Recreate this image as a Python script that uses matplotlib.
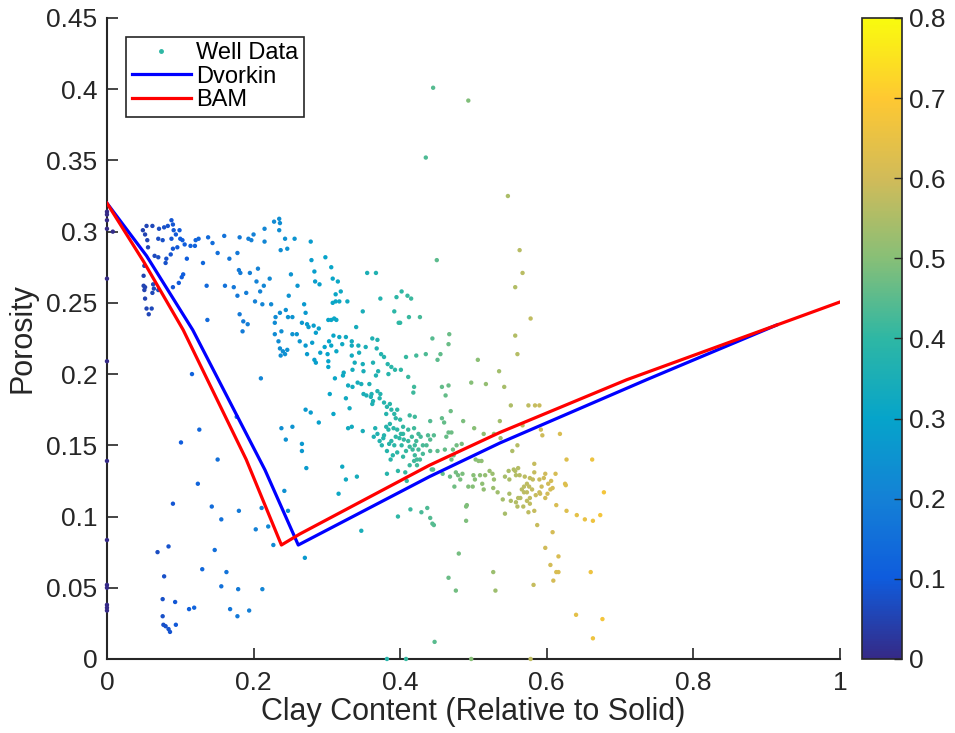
import numpy as np
import matplotlib
matplotlib.use('Agg')
import matplotlib.pyplot as plt
from matplotlib.colors import LinearSegmentedColormap
from matplotlib.lines import Line2D

plt.rcParams['font.family'] = ['Liberation Sans', 'DejaVu Sans']

# well data (clay fraction of solid, porosity)
axis_pts = [(0, .314), (0, .312), (0, .308), (0, .302), (.008, .300), (0, .267), (0, .209),
            (0, .139), (0, .0835), (0, .052), (0, .050), (0, .038), (0, .036), (0, .034)]

sand_pts = [(.054, .304), (.062, .304), (.049, .301), (.052, .298), (.055, .294), (.071, .302),
            (.078, .303), (.083, .304), (.088, .308), (.090, .305), (.091, .301), (.094, .298),
            (.099, .301), (.100, .295), (.103, .294), (.070, .295), (.076, .294), (.088, .295),
            (.090, .288), (.096, .289), (.056, .289), (.065, .283), (.070, .282), (.081, .281),
            (.080, .278), (.087, .284), (.051, .276), (.050, .269), (.050, .262), (.052, .261),
            (.051, .259), (.063, .263), (.064, .260), (.062, .257), (.052, .253), (.054, .246),
            (.061, .246), (.057, .242), (.090, .261), (.098, .264), (.102, .268), (.104, .270),
            (.070, .259)]

upper_pts = [(.109, .281), (.106, .291), (.114, .290), (.120, .290), (.121, .294), (.125, .295),
             (.138, .296), (.144, .292), (.131, .278), (.151, .285), (.160, .297), (.167, .281),
             (.178, .285), (.181, .296), (.193, .295), (.197, .294), (.200, .298), (.215, .302),
             (.215, .293), (.228, .307), (.235, .309), (.236, .306), (.235, .301), (.243, .295),
             (.256, .295), (.237, .287), (.246, .288), (.180, .273), (.182, .271), (.195, .271),
             (.206, .274), (.222, .267), (.251, .270), (.204, .265), (.214, .262), (.209, .258),
             (.190, .257), (.178, .255), (.202, .251), (.136, .262), (.161, .262), (.173, .261),
             (.212, .249), (.224, .249), (.248, .255), (.260, .262), (.236, .243), (.244, .245),
             (.247, .240), (.253, .240), (.230, .240), (.181, .242), (.186, .237), (.192, .235),
             (.229, .236), (.137, .238),
             (.116, .200), (.185, .230), (.210, .197), (.229, .228), (.238, .230), (.253, .228),
             (.259, .228), (.234, .223), (.236, .218), (.240, .216), (.243, .214), (.237, .213),
             (.246, .217), (.263, .223), (.177, .170), (.238, .162), (.253, .163), (.244, .154),
             (.126, .161), (.101, .152), (.151, .140)]

low_pts = [(.124, .123), (.090, .109), (.143, .107), (.180, .104), (.156, .098), (.242, .118),
           (.211, .106), (.247, .104), (.203, .091), (.220, .093), (.227, .080), (.084, .079),
           (.069, .075), (.147, .0765), (.130, .063), (.078, .058), (.163, .061), (.156, .051),
           (.179, .049), (.212, .049), (.076, .042), (.093, .040), (.112, .035), (.119, .036),
           (.168, .035), (.178, .030), (.194, .034), (.076, .030), (.077, .024), (.080, .023),
           (.084, .021), (.086, .019), (.094, .024), (.270, .071)]

mid_pts = [(.278, .293), (.279, .280), (.283, .272), (.284, .265), (.290, .263), (.298, .282),
           (.306, .275), (.308, .267), (.315, .265), (.319, .258), (.312, .256), (.317, .251),
           (.312, .251), (.308, .250), (.328, .251), (.302, .238), (.306, .238), (.310, .239),
           (.313, .238), (.340, .233), (.355, .271), (.367, .271), (.373, .253), (.349, .244),
           (.395, .254), (.392, .244), (.398, .236), (.269, .249), (.271, .243), (.273, .235),
           (.275, .233), (.282, .234), (.289, .232), (.285, .229), (.266, .236),
           (.271, .220), (.273, .214), (.280, .222), (.283, .210), (.285, .208), (.302, .205),
           (.291, .215), (.297, .219), (.301, .214), (.306, .220), (.303, .223), (.309, .227),
           (.317, .226), (.321, .221), (.326, .226), (.334, .223), (.334, .220), (.334, .213),
           (.338, .208), (.344, .215), (.343, .220), (.349, .207), (.353, .219), (.362, .225),
           (.363, .208), (.368, .218), (.369, .224), (.374, .214), (.378, .212), (.383, .207),
           (.388, .205), (.384, .200), (.370, .202), (.367, .199), (.350, .202), (.335, .203),
           (.323, .201), (.322, .199), (.311, .197), (.302, .209), (.313, .216), (.393, .203)]

trend_pts = [(.329, .192), (.335, .191), (.342, .194), (.347, .193), (.358, .193), (.304, .186),
             (.326, .183), (.350, .186), (.354, .185), (.361, .186), (.369, .188), (.373, .186),
             (.360, .184), (.363, .181), (.362, .179), (.372, .183), (.378, .180), (.382, .177),
             (.386, .179), (.388, .175), (.392, .172), (.396, .175), (.394, .169), (.381, .172),
             (.386, .165), (.381, .163), (.384, .161), (.391, .162), (.396, .161), (.400, .168),
             (.404, .163), (.411, .161), (.413, .171), (.420, .170), (.419, .191), (.418, .187),
             (.457, .191), (.466, .192), (.462, .185), (.497, .194), (.517, .193),
             (.404, .158), (.405, .154), (.411, .153), (.416, .156), (.419, .162), (.425, .158),
             (.422, .153), (.428, .156), (.431, .150), (.438, .157), (.441, .154), (.446, .157),
             (.441, .167), (.457, .169), (.460, .166), (.469, .174), (.486, .167), (.466, .159),
             (.470, .159), (.463, .156), (.501, .162), (.514, .158), (.528, .158), (.536, .167),
             (.366, .162), (.369, .158), (.364, .156), (.372, .153), (.377, .155), (.375, .150),
             (.378, .157), (.385, .151), (.388, .153), (.392, .150), (.394, .156), (.399, .155),
             (.401, .158), (.413, .149), (.420, .150), (.417, .147), (.425, .147), (.420, .143),
             (.423, .140), (.419, .139), (.427, .140), (.431, .144), (.413, .136), (.408, .146),
             (.404, .142), (.396, .145), (.382, .146), (.387, .140), (.390, .143), (.402, .150),
             (.436, .150), (.441, .146), (.451, .146), (.461, .147), (.472, .147), (.477, .150),
             (.484, .151), (.473, .143), (.470, .140),
             (.443, .133), (.445, .133), (.458, .130), (.468, .128), (.476, .131), (.479, .129),
             (.485, .130), (.482, .126), (.503, .140), (.507, .139), (.511, .139), (.500, .129),
             (.509, .129), (.516, .129), (.522, .132), (.526, .130), (.528, .126), (.502, .126),
             (.493, .121), (.499, .121), (.512, .123), (.514, .119), (.527, .120), (.533, .117),
             (.474, .121), (.397, .132), (.382, .130), (.407, .131), (.409, .125), (.423, .136),
             (.266, .151), (.266, .146), (.272, .134), (.289, .166), (.271, .175), (.278, .173),
             (.309, .172), (.331, .176), (.329, .162), (.334, .163), (.349, .160), (.321, .135),
             (.326, .126), (.341, .128), (.316, .116),
             (.397, .100), (.414, .105), (.429, .103), (.437, .106), (.441, .099), (.444, .095),
             (.446, .094), (.490, .107), (.491, .108), (.490, .097), (.347, .090)]

shale_pts = [(.542, .191), (.551, .178), (.575, .178), (.584, .178), (.590, .178), (.537, .155),
             (.553, .146), (.560, .150), (.567, .164), (.592, .161), (.594, .157), (.618, .158),
             (.627, .140), (.662, .140), (.583, .137), (.561, .134), (.555, .133), (.557, .132),
             (.548, .132), (.543, .128), (.549, .126), (.558, .129), (.563, .129), (.570, .128),
             (.577, .127), (.581, .126), (.590, .126), (.583, .131), (.598, .130), (.596, .127),
             (.612, .130), (.606, .125), (.602, .123), (.605, .119), (.608, .120), (.601, .116),
             (.593, .121), (.590, .117), (.585, .115), (.580, .119), (.576, .121), (.573, .123),
             (.569, .121), (.566, .119), (.569, .117), (.573, .117), (.577, .113), (.564, .113),
             (.561, .113), (.558, .110), (.560, .107), (.568, .107), (.573, .111), (.577, .109),
             (.591, .116), (.598, .113), (.613, .108), (.625, .123), (.626, .122), (.583, .104),
             (.575, .103), (.627, .104), (.641, .101), (.652, .098), (.663, .097), (.673, .101),
             (.678, .117), (.543, .102), (.540, .112), (.549, .116), (.551, .111), (.587, .094),
             (.608, .089), (.598, .078)]

high_pts = [(.445, .401), (.493, .392), (.435, .352), (.547, .325), (.563, .287), (.567, .271),
            (.557, .261), (.450, .280), (.578, .239), (.557, .227), (.560, .214), (.506, .210),
            (.535, .202), (.402, .258), (.410, .255), (.415, .253), (.412, .240), (.427, .240),
            (.400, .236), (.444, .225), (.467, .228), (.466, .221), (.408, .212), (.422, .213),
            (.435, .214), (.455, .214), (.451, .210), (.401, .203), (.411, .198)]

tail_pts = [(.616, .072), (.605, .066), (.613, .061), (.616, .061), (.609, .055), (.582, .052),
            (.660, .061), (.480, .074), (.466, .057), (.476, .048), (.527, .061), (.530, .048),
            (.640, .031), (.676, .028), (.663, .0145), (.447, .012), (.382, 0), (.408, 0),
            (.497, 0), (.578, 0)]

# model curves
dvorkin_clay = [0, 0.054, 0.117, 0.2156, 0.261, 0.44, 0.536, 0.736, 0.914]
dvorkin_phi = [0.32, 0.283, 0.231, 0.1327, 0.080, 0.128, 0.1516, 0.196, 0.2345]
bam_clay = [0, 0.05, 0.104, 0.19, 0.238, 0.263, 0.44, 0.536, 0.709, 1.0]
bam_phi = [0.32, 0.279, 0.231, 0.14, 0.080, 0.0877, 0.136, 0.159, 0.196, 0.2506]

parula = LinearSegmentedColormap.from_list('parula', [
    '#352A87', '#0F5CDD', '#1481D6', '#06A4CA', '#2EB7A4',
    '#87BF77', '#D1BB59', '#FEC832', '#F9FB0E'])

ink = '#262626'

pts = np.array(axis_pts + sand_pts + upper_pts + low_pts + mid_pts + trend_pts
               + shale_pts + high_pts + tail_pts)

fig = plt.figure(figsize=(9.55, 7.33), dpi=100)
ax = fig.add_axes([0.112, 0.101, 0.7675, 0.8745])
cax = fig.add_axes([0.9026, 0.101, 0.0419, 0.8745])

sc = ax.scatter(pts[:, 0], pts[:, 1], c=pts[:, 0], cmap=parula, vmin=0, vmax=0.8,
                s=10, linewidths=0, clip_on=False, zorder=3)
ax.plot(dvorkin_clay, dvorkin_phi, color='blue', lw=2.3, zorder=4)
ax.plot(bam_clay, bam_phi, color='red', lw=2.3, zorder=4)

ax.set_xlim(0, 1)
ax.set_ylim(0, 0.45)
ax.set_xticks(np.arange(0, 1.01, 0.2))
ax.set_yticks(np.arange(0, 0.451, 0.05))
ax.set_xticklabels(['%g' % round(v, 2) for v in np.arange(0, 1.01, 0.2)])
ax.set_yticklabels(['%g' % round(v, 2) for v in np.arange(0, 0.451, 0.05)])
ax.tick_params(direction='in', length=8, width=1.2, colors=ink, labelsize=19)
ax.tick_params(axis='x', pad=9)
ax.tick_params(axis='y', pad=7)
for side in ['top', 'right']:
    ax.spines[side].set_visible(False)
for side in ['left', 'bottom']:
    ax.spines[side].set_color(ink)
    ax.spines[side].set_linewidth(1.5)
ax.set_xlabel('Clay Content (Relative to Solid)', fontsize=22, color=ink, labelpad=1)
ax.set_ylabel('Porosity', fontsize=22, color=ink, labelpad=6)

handles = [Line2D([], [], ls='none', marker='o', ms=2.5, color='#2EB7A4'),
           Line2D([], [], color='blue', lw=2.3),
           Line2D([], [], color='red', lw=2.3)]
leg = ax.legend(handles, ['Well Data', 'Dvorkin', 'BAM'], loc='upper left',
                bbox_to_anchor=(0.026, 0.971), borderaxespad=0, fontsize=17,
                handlelength=2.5, handletextpad=0.2, labelspacing=0.05,
                borderpad=0.25, fancybox=False, framealpha=1)
leg.get_frame().set_edgecolor(ink)
leg.get_frame().set_linewidth(1.2)

cbar = fig.colorbar(sc, cax=cax, ticks=np.arange(0, 0.81, 0.1))
cbar.ax.set_yticklabels(['%g' % round(v, 1) for v in np.arange(0, 0.81, 0.1)])
cbar.ax.tick_params(direction='in', length=6, width=1, colors=ink, labelsize=19, pad=5)
cbar.outline.set_edgecolor(ink)
cbar.outline.set_linewidth(1.2)

fig.savefig('out.png', dpi=100)
